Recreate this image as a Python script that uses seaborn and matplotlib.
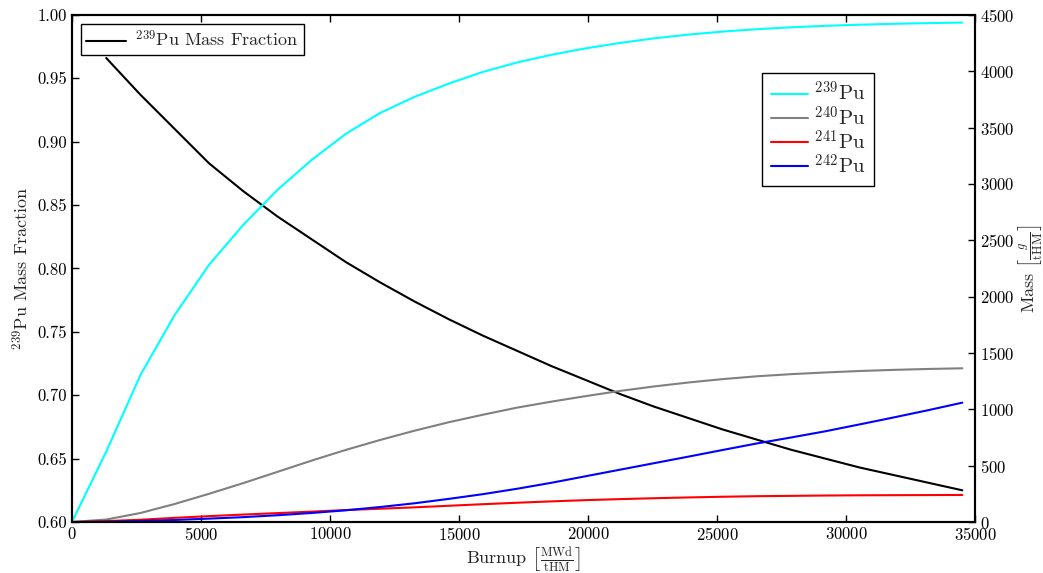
import numpy as np
import pandas as pd
import seaborn as sns
import matplotlib.pyplot as plt

# burnup steps (MWd/tHM)
burnup = [0, 1327, 2654, 3981, 5308, 6635, 7962, 9288, 10615, 11942, 13269, 14596, 15923,
          17250, 18577, 19904, 21231, 22558, 23885, 25212, 26538, 27865, 29192, 30519,
          31846, 33173, 34500]

# 239Pu mass fraction (first step has no value)
frac_pu239 = [np.nan, 0.966, 0.937, 0.910, 0.883, 0.861, 0.841, 0.823, 0.805, 0.789, 0.774,
              0.760, 0.747, 0.735, 0.723, 0.712, 0.701, 0.691, 0.682, 0.673, 0.665, 0.657,
              0.650, 0.643, 0.637, 0.631, 0.625]

# masses in g/tHM
mass_pu239 = [0, 624, 1305, 1837, 2281, 2636, 2947, 3213, 3445, 3630, 3772, 3890, 3994,
              4078, 4146, 4203, 4251, 4292, 4325, 4352, 4373, 4390, 4403, 4413, 4421, 4427, 4432]
mass_pu240 = [0, 22, 80, 160, 250, 345, 445, 545, 640, 728, 810, 885, 952,
              1015, 1068, 1117, 1163, 1203, 1238, 1268, 1293, 1312, 1327, 1340, 1350, 1358, 1364]
mass_pu241 = [0, 8, 20, 37, 52, 66, 79, 92, 106, 118, 130, 144, 158,
              171, 183, 194, 203, 211, 218, 224, 229, 232, 235, 237, 238, 239, 240]
mass_pu242 = [0, 3, 9, 18, 30, 43, 60, 80, 104, 133, 166, 205, 247,
              295, 348, 406, 464, 522, 580, 639, 697, 750, 805, 866, 928, 992, 1059]

isotopes = [r'$^{239}$Pu', r'$^{240}$Pu', r'$^{241}$Pu', r'$^{242}$Pu']
colors = ['cyan', 'gray', 'red', 'blue']

df = pd.DataFrame({'burnup': burnup, 'frac': frac_pu239})
df_mass = pd.DataFrame({'burnup': burnup * 4,
                        'mass': mass_pu239 + mass_pu240 + mass_pu241 + mass_pu242,
                        'isotope': [iso for iso in isotopes for _ in burnup]})

sns.set_style('ticks')
plt.rcParams['font.family'] = ['cmr10', 'DejaVu Serif']
plt.rcParams['mathtext.fontset'] = 'cm'
plt.rcParams['axes.formatter.use_mathtext'] = True
plt.rcParams['axes.unicode_minus'] = False
plt.rcParams['xtick.direction'] = 'in'
plt.rcParams['ytick.direction'] = 'in'
plt.rcParams['axes.edgecolor'] = 'black'
plt.rcParams['axes.linewidth'] = 1.5
plt.rcParams['xtick.color'] = 'black'
plt.rcParams['ytick.color'] = 'black'

fig = plt.figure(figsize=(10.43, 5.73), dpi=100)
ax = fig.add_axes([0.069, 0.089, 0.866, 0.885])
ax2 = ax.twinx()

sns.lineplot(data=df, x='burnup', y='frac', ax=ax, color='black', lw=1.5,
             label=r'$^{239}$Pu Mass Fraction')
sns.lineplot(data=df_mass, x='burnup', y='mass', hue='isotope', palette=colors,
             hue_order=isotopes, ax=ax2, lw=1.5)

ax.set_xlim(0, 35000)
ax.set_ylim(0.60, 1.00)
ax.set_yticks(np.arange(0.60, 1.001, 0.05))
ax.set_yticklabels(['%.2f' % v for v in np.arange(0.60, 1.001, 0.05)])
ax2.set_ylim(0, 4500)
ax2.set_yticks(range(0, 4501, 500))

ax.tick_params(axis='x', top=True, labelsize=12, length=5, width=1, pad=3)
ax.tick_params(axis='y', labelsize=12, length=5, width=1)
ax2.tick_params(axis='y', labelsize=12, length=5, width=1)

ax.set_xlabel(r'Burnup $\left[\frac{\mathrm{MWd}}{\mathrm{tHM}}\right]$', fontsize=13, labelpad=2)
ax.set_ylabel(r'$^{239}$Pu Mass Fraction', fontsize=13)
ax2.set_ylabel(r'Mass $\left[\frac{g}{\mathrm{tHM}}\right]$', fontsize=13, labelpad=1)

leg1 = ax.legend(loc='upper left', fontsize=13, fancybox=False, frameon=True,
                 edgecolor='black', framealpha=1, handlelength=2.2, handletextpad=0.5,
                 borderpad=0.3)
leg1.get_frame().set_linewidth(1.0)
leg2 = ax2.legend(loc='upper right', bbox_to_anchor=(0.888, 0.886), borderaxespad=0,
                  fontsize=15, fancybox=False, edgecolor='black', framealpha=1,
                  handlelength=1.8, handletextpad=0.3, labelspacing=0.0, borderpad=0.4)
leg2.get_frame().set_linewidth(1.0)

fig.savefig('out.png', dpi=100)
